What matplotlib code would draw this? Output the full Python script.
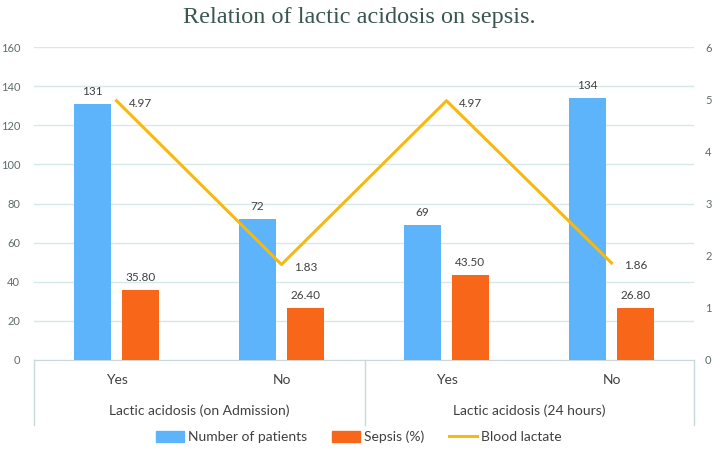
import matplotlib
matplotlib.use("Agg")
import matplotlib.pyplot as plt
import numpy as np
from matplotlib.lines import Line2D
from matplotlib.patches import Patch

groups = ["Lactic acidosis (on Admission)", "Lactic acidosis (24 hours)"]
categories = ["Yes", "No", "Yes", "No"]
patients = [131, 72, 69, 134]
sepsis = [35.80, 26.40, 43.50, 26.80]
lactate = [4.97, 1.83, 4.97, 1.86]
left_ticks = [0, 20, 40, 60, 80, 100, 120, 140, 160]
right_ticks = [0, 1, 2, 3, 4, 5, 6]

BLUE = "#5DB4FA"
ORANGE = "#F8661A"
GOLD = "#F7B910"
GRID = "#D6E8E8"
TXT = "#404040"
TICK = "#5F6B6B"

plt.rcParams['font.family'] = ['Lato', 'DejaVu Sans']

W, H = 718, 458
fig = plt.figure(figsize=(W/100, H/100), dpi=100)
L, R, B, T = 34, 694, 360, 47
ax = fig.add_axes([L/W, 1-B/H, (R-L)/W, (B-T)/H])
ax2 = ax.twinx()

x = np.arange(len(categories))
bw = 0.224
off = 0.145
ax.bar(x-off, patients, bw, color=BLUE, zorder=3)
ax.bar(x+off, sepsis, bw, color=ORANGE, zorder=3)
ax.set_xlim(-0.5, len(categories)-0.5)
ax.set_ylim(0, 160)
ax.set_yticks(left_ticks)
ax.grid(axis='y', color=GRID, linewidth=1.0, zorder=0)
ax.set_axisbelow(True)
for s in ['top', 'right', 'left']:
    ax.spines[s].set_visible(False)
ax.spines['bottom'].set_color("#C9D9D9")
ax.tick_params(axis='y', length=0, labelsize=8, labelcolor=TICK, pad=10)
ax.set_xticks([])

for xi, v in zip(x, patients):
    ax.annotate(f"{v}", (xi-off, v), xytext=(0, 5), textcoords='offset points',
                ha='center', va='bottom', fontsize=8.5, color=TXT)
for xi, v in zip(x, sepsis):
    ax.annotate(f"{v:.2f}", (xi+off, v), xytext=(0, 5), textcoords='offset points',
                ha='center', va='bottom', fontsize=8.5, color=TXT)

ax2.plot(x, lactate, color=GOLD, linewidth=2.2, zorder=4)
ax2.set_ylim(0, 6)
ax2.set_yticks(right_ticks)
for s in ['top', 'right', 'left', 'bottom']:
    ax2.spines[s].set_visible(False)
ax2.tick_params(axis='y', length=0, labelsize=8, labelcolor=TICK, pad=8)
for xi, v in zip(x, lactate):
    ax2.annotate(f"{v:.2f}", (xi, v), xytext=(9, -2), textcoords='offset points',
                 ha='left', va='center', fontsize=8.5, color=TXT)

# category axis box
lc = "#C9D9D9"
for xp in [L, 365, R]:
    fig.add_artist(Line2D([xp/W, xp/W], [1-B/H, 1-425/H], color=lc, linewidth=1.0))
for xi, c in zip(x, categories):
    xf = (L + (xi+0.5)*(R-L)/len(categories))/W
    fig.text(xf, 1-380/H, c, ha='center', va='center', fontsize=10, color=TXT)
for gi, g in enumerate(groups):
    xf = (L + (gi*2+1)*(R-L)/len(categories))/W
    fig.text(xf, 1-411/H, g, ha='center', va='center', fontsize=10, color=TXT)

fig.text(0.5, 1-18/H, "Relation of lactic acidosis on sepsis.", ha='center', va='center',
         fontsize=17.5, color="#3A5650", family=['Liberation Serif', 'DejaVu Serif'])

handles = [Patch(color=BLUE, label="Number of patients"),
           Patch(color=ORANGE, label="Sepsis (%)"),
           Line2D([0], [0], color=GOLD, linewidth=2.2, label="Blood lactate")]
fig.legend(handles=handles, loc='center', bbox_to_anchor=(0.5, 1-437/H), ncol=3,
           frameon=False, fontsize=10, handlelength=2.0, handleheight=0.8,
           columnspacing=1.8, handletextpad=0.3, labelcolor=TXT)

fig.savefig("out.png", dpi=100)
